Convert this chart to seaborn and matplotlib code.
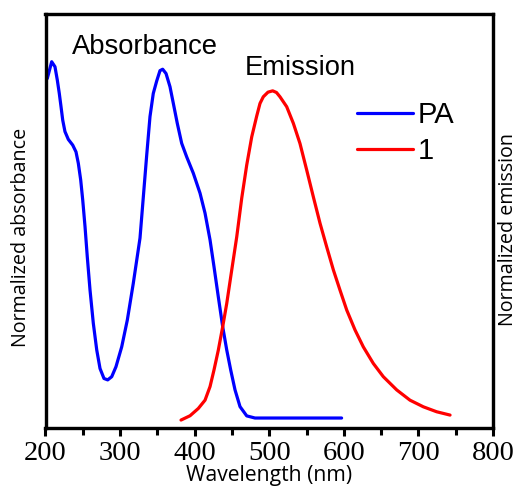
import numpy as np
import pandas as pd
import matplotlib
matplotlib.use("Agg")
import matplotlib.pyplot as plt
from matplotlib.ticker import MultipleLocator
import seaborn as sns

# Data
abs_wl = [202.4, 208.3, 212.7, 215.8, 218.5, 220.8, 223.1, 226.1, 230.6, 236.5, 240.9,
          244.0, 247.2, 249.9, 253.0, 256.0, 259.7, 264.1, 268.7, 273.1, 278.4, 283.4,
          288.8, 294.5, 302.2, 309.7, 317.7, 326.7, 335.7, 340.1, 344.5, 349.1, 353.5,
          357.1, 361.6, 366.9, 371.4, 376.7, 382.6, 389.3, 398.2, 407.2, 413.9, 420.6,
          425.9, 431.7, 437.6, 443.0, 448.3, 454.1, 460.8, 469.8, 480.9, 597.0]
abs_val = [0.953, 1.000, 0.986, 0.949, 0.911, 0.874, 0.836, 0.804, 0.782, 0.766, 0.747,
           0.715, 0.668, 0.612, 0.537, 0.453, 0.359, 0.266, 0.191, 0.139, 0.111, 0.107,
           0.116, 0.144, 0.200, 0.275, 0.378, 0.505, 0.738, 0.846, 0.911, 0.946, 0.975,
           0.979, 0.967, 0.930, 0.883, 0.827, 0.771, 0.733, 0.687, 0.631, 0.575, 0.500,
           0.425, 0.340, 0.256, 0.191, 0.135, 0.079, 0.032, 0.006, 0.0, 0.0]

em_wl = [381.7, 393.8, 404.9, 413.9, 420.6, 425.9, 431.7, 437.6, 443.0, 449.7, 456.4,
         463.1, 469.8, 476.5, 483.2, 487.6, 492.0, 498.3, 504.6, 509.7, 514.4, 523.4,
         532.3, 541.2, 550.2, 559.1, 568.1, 577.0, 586.0, 594.9, 603.9, 615.0, 626.1,
         639.5, 652.9, 670.9, 688.7, 706.6, 724.5, 742.4]
em_val = [0.006, 0.019, 0.041, 0.066, 0.107, 0.157, 0.217, 0.288, 0.358, 0.459, 0.559,
          0.676, 0.776, 0.861, 0.924, 0.962, 0.982, 0.996, 1.000, 0.995, 0.982, 0.952,
          0.902, 0.841, 0.761, 0.680, 0.600, 0.529, 0.459, 0.398, 0.338, 0.278, 0.227,
          0.177, 0.137, 0.097, 0.066, 0.046, 0.031, 0.021]

x_ticks = [200, 300, 400, 500, 600, 700, 800]
series_names = ["PA", "1"]

sns.set_theme(style="white")
plt.rcParams['font.family'] = ['Liberation Sans', 'DejaVu Sans']
plt.rcParams['text.color'] = 'black'
plt.rcParams['axes.labelcolor'] = 'black'
plt.rcParams['xtick.color'] = 'black'
plt.rcParams['ytick.color'] = 'black'

df_abs = pd.DataFrame({"Wavelength": abs_wl, "Value": abs_val})
df_em = pd.DataFrame({"Wavelength": em_wl, "Value": em_val})

fig = plt.figure(figsize=(5.18, 4.87), dpi=100)
ax = fig.add_axes([45.5 / 518, 1 - 428 / 487, (493 - 45.5) / 518, (428 - 14) / 487])
ax2 = ax.twinx()

sns.lineplot(data=df_abs, x="Wavelength", y="Value", ax=ax, color="#0000ff",
             lw=2.3, label=series_names[0], legend=False)
sns.lineplot(data=df_em, x="Wavelength", y="Value", ax=ax2, color="#ff0000",
             lw=2.3, label=series_names[1], legend=False)

ax.set_xlim(200, 800)
ax.set_ylim(-0.028, 1.134)
ax2.set_ylim(-0.018, 1.232)

ax.set_xticks(x_ticks)
ax.set_xticklabels([str(t) for t in x_ticks], family='Liberation Serif', fontsize=20.5,
                   color='black')
ax.xaxis.set_minor_locator(MultipleLocator(50))
ax.tick_params(axis='x', which='major', direction='out', length=6, width=2.2, pad=3,
               bottom=True, colors='black')
ax.tick_params(axis='x', which='minor', direction='out', length=5, width=2.2, bottom=True,
               colors='black')
ax.set_yticks([])
ax2.set_yticks([])

for a in (ax, ax2):
    for s in a.spines.values():
        s.set_linewidth(2.3)
        s.set_color('black')

ax.set_xlabel("Wavelength (nm)", family='Open Sans', fontsize=15.2, va='center',
              color='black')
ax.xaxis.set_label_coords(0.5, (428 - 475) / 414)
ax.set_ylabel("Normalized absorbance", family='Open Sans', fontsize=14.2, va='center',
              color='black')
ax.yaxis.set_label_coords((21 - 45.5) / 447.5, (428 - 237) / 414)
ax2.set_ylabel("Normalized emission", family='Open Sans', fontsize=14.2, rotation=90,
               va='center', color='black')
ax2.yaxis.set_label_coords((508 - 45.5) / 447.5, (428 - 230) / 414)

fig.text(145 / 518, 1 - 47 / 487, "Absorbance", fontsize=19.7, va='center', ha='center',
         color='black')
fig.text(300 / 518, 1 - 68 / 487, "Emission", fontsize=19.7, va='center', ha='center',
         color='black')

h1, l1 = ax.get_legend_handles_labels()
h2, l2 = ax2.get_legend_handles_labels()
leg = ax2.legend(h1 + h2, l1 + l2, loc='upper left', bbox_to_anchor=(357 / 518, 1 - 101 / 487),
                 bbox_transform=fig.transFigure, frameon=False, fontsize=21,
                 handlelength=1.92, handletextpad=0.17, labelspacing=0.29,
                 borderaxespad=0, borderpad=0)
for t in leg.get_texts():
    t.set_color('black')

fig.savefig("out.png", dpi=100)
